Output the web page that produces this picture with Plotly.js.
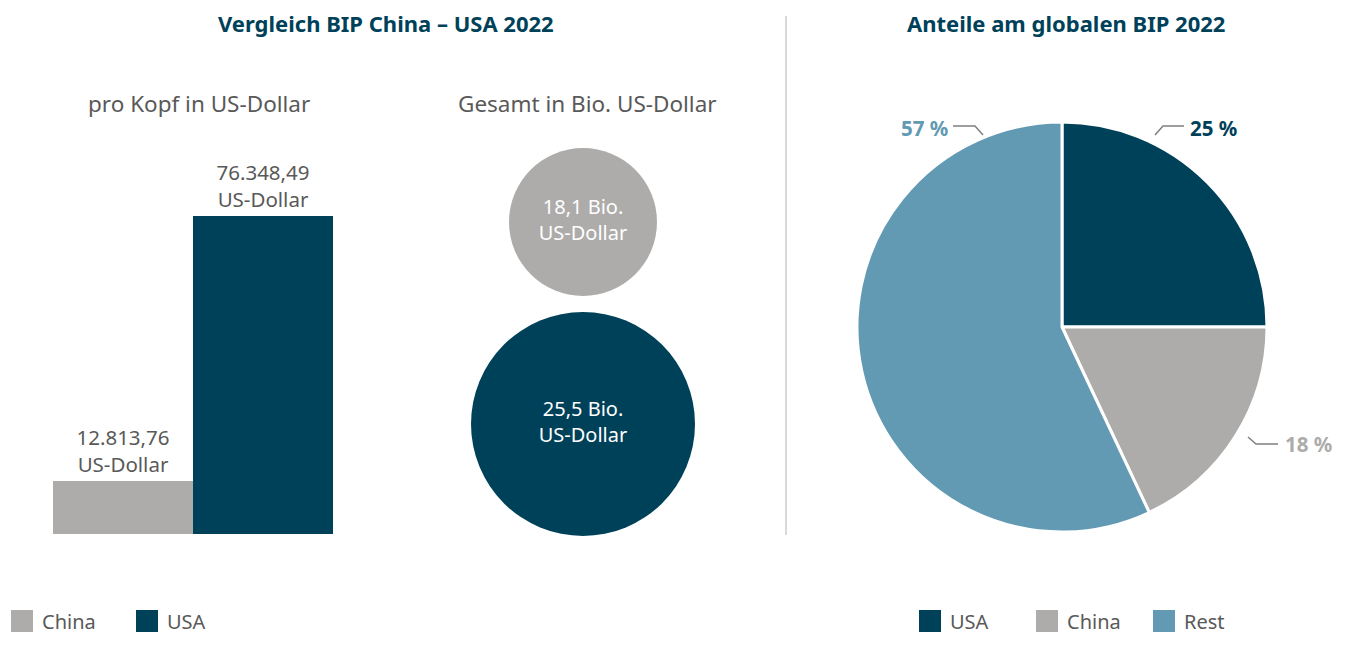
<!DOCTYPE html>
<html>
<head>
<meta charset="utf-8">
<script src="https://cdn.plot.ly/plotly-3.0.1.min.js"></script>
<style>html,body{margin:0;padding:0;background:#fff;}#chart{width:1351px;height:648px;}</style>
</head>
<body>
<div id="chart"></div>
<script>
// ---- data ----
const countries = ['China', 'USA'];
const perCapita = [12813.76, 76348.49];       // BIP pro Kopf in US-Dollar
const totalBio = [18.1, 25.5];                 // BIP gesamt in Bio. US-Dollar
const shareLabels = ['USA', 'China', 'Rest'];
const shareValues = [25, 18, 57];              // Anteil am globalen BIP in %

// ---- styles ----
const NAVY = '#00415a', GREY = '#adacaa', LIGHT = '#6299b3', TXT = '#595959';
const FONT = 'Noto Sans, Open Sans, sans-serif';
const W = 1351, H = 648;
const px = x => x / W, py = y => 1 - y / H;

const barColors = {China: GREY, USA: NAVY};
const traces = [];

countries.forEach((c, i) => {
  traces.push({
    type: 'bar', x: [c], y: [perCapita[i]], name: c,
    width: 1, marker: {color: barColors[c], line: {width: 0}},
    texttemplate: '%{y:,.2f}<br>US-Dollar', textposition: 'outside',
    textfont: {family: FONT, size: 20.5, color: TXT}, cliponaxis: false,
    hoverinfo: 'skip', legend: 'legend', xaxis: 'x', yaxis: 'y'
  });
});

// bubbles
traces.push({
  type: 'scatter', mode: 'markers+text', xaxis: 'x2', yaxis: 'y2',
  x: ['Gesamt', 'Gesamt'], y: countries, customdata: totalBio,
  marker: {size: [148, 224], color: countries.map(c => barColors[c]), opacity: 1, line: {width: 0}},
  texttemplate: '%{customdata:.1f} Bio.<br>US-Dollar', textposition: 'middle center',
  textfont: {family: FONT, size: 20, color: '#ffffff'},
  cliponaxis: false, showlegend: false, hoverinfo: 'skip'
});

// pie
const pieColors = {USA: NAVY, China: GREY, Rest: LIGHT};
traces.push({
  type: 'pie', labels: shareLabels, values: shareValues, sort: false,
  direction: 'clockwise', rotation: 0,
  marker: {colors: shareLabels.map(l => pieColors[l]), line: {color: '#ffffff', width: 3}},
  textinfo: 'none', hoverinfo: 'skip', legend: 'legend2',
  domain: {x: [px(857), px(1267)], y: [py(532), py(122)]}
});

const total = shareValues.reduce((a, b) => a + b, 0);
const pct = i => Math.round(shareValues[i] / total * 100) + ' %';

const annotations = [
  {text: '<b>Vergleich BIP China – USA 2022</b>', x: px(386), y: py(23), font: {size: 22, color: NAVY}},
  {text: '<b>Anteile am globalen BIP 2022</b>', x: px(1066), y: py(23), font: {size: 22, color: NAVY}},
  {text: 'pro Kopf in US-Dollar', x: px(199), y: py(103), font: {size: 22.5, color: TXT}},
  {text: 'Gesamt in Bio. US-Dollar', x: px(587), y: py(103), font: {size: 22.5, color: TXT}},
  {text: '<b>' + pct(0) + '</b>', x: px(1188), y: py(128), xanchor: 'left', font: {size: 20.5, color: NAVY}},
  {text: '<b>' + pct(1) + '</b>', x: px(1283), y: py(444), xanchor: 'left', font: {size: 20.5, color: GREY}},
  {text: '<b>' + pct(2) + '</b>', x: px(950), y: py(128), xanchor: 'right', font: {size: 20.5, color: LIGHT}}
].map(a => Object.assign({xref: 'paper', yref: 'paper', showarrow: false, xanchor: 'center', yanchor: 'middle'}, a,
  {font: Object.assign({family: FONT}, a.font)}));

const lineStyle = {color: '#7f7f7f', width: 1.5};
const path = pts => 'M' + pts.map(p => px(p[0]) + ',' + py(p[1])).join(' L');
const shapes = [
  {type: 'line', xref: 'paper', yref: 'paper', x0: px(786), x1: px(786), y0: py(16), y1: py(535), line: {color: '#d9d9d9', width: 2}},
  {type: 'path', xref: 'paper', yref: 'paper', path: path([[1155, 135], [1163, 126], [1184, 126]]), line: lineStyle},
  {type: 'path', xref: 'paper', yref: 'paper', path: path([[953, 126], [975, 126], [983, 135]]), line: lineStyle},
  {type: 'path', xref: 'paper', yref: 'paper', path: path([[1248, 437], [1256, 444], [1278, 444]]), line: lineStyle}
];

const hidden = {visible: false, fixedrange: true};
const layout = {
  width: W, height: H, margin: {l: 0, r: 0, t: 0, b: 0},
  paper_bgcolor: '#ffffff', plot_bgcolor: 'rgba(0,0,0,0)',
  separators: ',.', barmode: 'overlay', bargap: 0,
  font: {family: FONT, color: TXT},
  xaxis: Object.assign({domain: [px(53), px(333)], range: [-0.5, 1.5], type: 'category', categoryarray: countries}, hidden),
  yaxis: Object.assign({domain: [py(534), py(534 - 318 * 90000 / perCapita[1])], range: [0, 90000]}, hidden),
  xaxis2: Object.assign({domain: [px(483), px(683)], range: [-0.5, 0.5], type: 'category', anchor: 'y2'}, hidden),
  yaxis2: Object.assign({domain: [py(525), py(121)], range: [-0.5, 1.5], type: 'category', categoryorder: 'array', categoryarray: ['USA', 'China'], anchor: 'x2'}, hidden),
  showlegend: true,
  legend: {orientation: 'h', x: px(2), y: py(621), xanchor: 'left', yanchor: 'middle',
    font: {family: FONT, size: 20, color: TXT}, entrywidth: 80, entrywidthmode: 'pixels', bgcolor: 'rgba(0,0,0,0)'},
  legend2: {orientation: 'h', x: px(910), y: py(621), xanchor: 'left', yanchor: 'middle',
    font: {family: FONT, size: 20, color: TXT}, entrywidth: 72, entrywidthmode: 'pixels', bgcolor: 'rgba(0,0,0,0)'},
  annotations: annotations, shapes: shapes
};

Plotly.newPlot('chart', traces, layout, {displayModeBar: false, staticPlot: true}).then(gd => {
  gd.querySelectorAll('.legendpoints path').forEach(p => {
    p.setAttribute('d', 'M11,11H-11V-11H11Z');
    p.style.strokeWidth = '0';
  });
});
</script>
</body>
</html>
